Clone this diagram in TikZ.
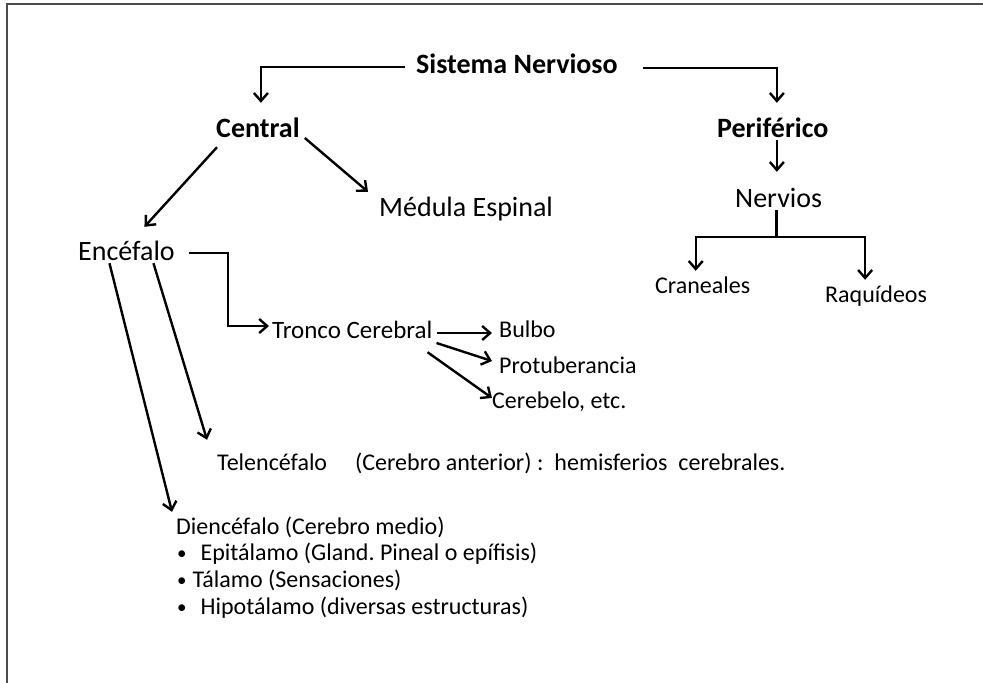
\documentclass[tikz,border=0pt]{standalone}
\usepackage{fontspec}
\setmainfont{Carlito}
\usetikzlibrary{arrows.meta,calc}

\newcommand{\itemdot}{\raisebox{1pt}{\fontsize{19}{19}\selectfont •}}
\frenchspacing

\begin{document}
\begin{tikzpicture}[x=1pt,y=-1pt,
        big/.style={inner sep=0pt,anchor=base west,font=\fontsize{28}{30}\selectfont,text height=20pt,text depth=6pt},
        bigb/.style={big,font=\fontsize{28}{30}\selectfont\bfseries},
        small/.style={inner sep=0pt,anchor=base west,font=\fontsize{24}{26}\selectfont,text height=17pt,text depth=5pt},
        arr/.style={line width=2.4pt,-{Straight Barb[length=8pt,width=14pt]}},
        link/.style={line width=2.4pt}]
        \useasboundingbox (0,0) rectangle (983,683);
        % frame of the slide
        \draw[line width=2pt,black!70] (7,683) -- (7,4) -- (983,4);
        % top levels
        \node[bigb] (sist) at (416,73) {Sistema Nervioso};
        \node[bigb] (central) at (216,137) {Central};
        \node[bigb] (perif) at (717,137) {Periférico};
        \node[big] (medula) at (379,216) {Médula Espinal};
        \node[big] (encef) at (78,260) {Encéfalo};
        \node[big] (nerv) at (735,207) {Nervios};
        \node[small] (cran) at (655,293) {Craneales};
        \node[small] (raqu) at (825,302) {Raquídeos};
        % parts of the encephalon
        \node[small,font=\fontsize{25}{27}\selectfont] (tronco) at (272,338) {Tronco Cerebral};
        \node[small] (bulbo) at (499,337) {Bulbo};
        \node[small] (protu) at (499,373) {Protuberancia};
        \node[small] (cereb) at (492,408) {Cerebelo, etc.};
        \node[small] (telen) at (217,470) {Telencéfalo\hspace{28pt}(Cerebro anterior) :\hspace{11pt}hemisferios\hspace{11pt}cerebrales.};
        \node[small] (dien) at (176,534) {Diencéfalo (Cerebro medio)};
        \node[small] (epit) at (177,560) {\itemdot\hspace{14pt}Epitálamo (Gland. Pineal o epífisis)};
        \node[small] (tala) at (177,587) {\itemdot\hspace{6pt}Tálamo (Sensaciones)};
        \node[small] (hipo) at (177,614) {\itemdot\hspace{14pt}Hipotálamo (diversas estructuras)};
        % Draw the edges
        \draw[arr] ($(sist.west)+(-11,1)$) -| ($(central.north)+(3,-14)$);
        \draw[arr] ($(sist.east)+(25,2)$) -| ($(perif.north)+(4,-14)$);
        \draw[arr] ($(central.south west)+(1,4)$) -- ($(encef.north)+(18,-13)$);
        \draw[arr] ($(central.east)+(5,8)$) -- ($(medula.north west)+(-11,-4)$);
        \draw[arr] ($(perif.south)+(4,-3)$) -- ($(perif.south |- nerv.north)+(4,-15)$);
        \coordinate (fork) at ($(nerv.south)+(-2,24)$);
        \draw[link] ($(nerv.south)+(-2,-3)$) -- (fork);
        \draw[arr] (fork) -| ($(cran.north)+(-7,-5)$);
        \draw[arr] (fork) -| ($(raqu.north)+(-11,-5)$);
        \draw[arr] ($(encef.east)+(14,0)$) -- ++(39,0) |- ($(tronco.west)+(-3,-6)$);
        \draw[arr] ($(tronco.east)+(4,1)$) -- ($(bulbo.west)+(-7,2)$);
        \draw[arr] ($(tronco.east)+(4,11)$) -- ($(protu.west)+(-7,-6)$);
        \draw[arr] ($(tronco.south east)+(-5,9)$) -- ($(cereb.west)+(0,-4)$);
        \draw[arr] ($(encef.south)+(27,-3)$) -- ($(telen.north west)+(-10,-13)$);
        \draw[arr] ($(encef.south)+(-17,-3)$) -- ($(dien.north west)+(-4,-5)$);
    \end{tikzpicture}
\end{document}
